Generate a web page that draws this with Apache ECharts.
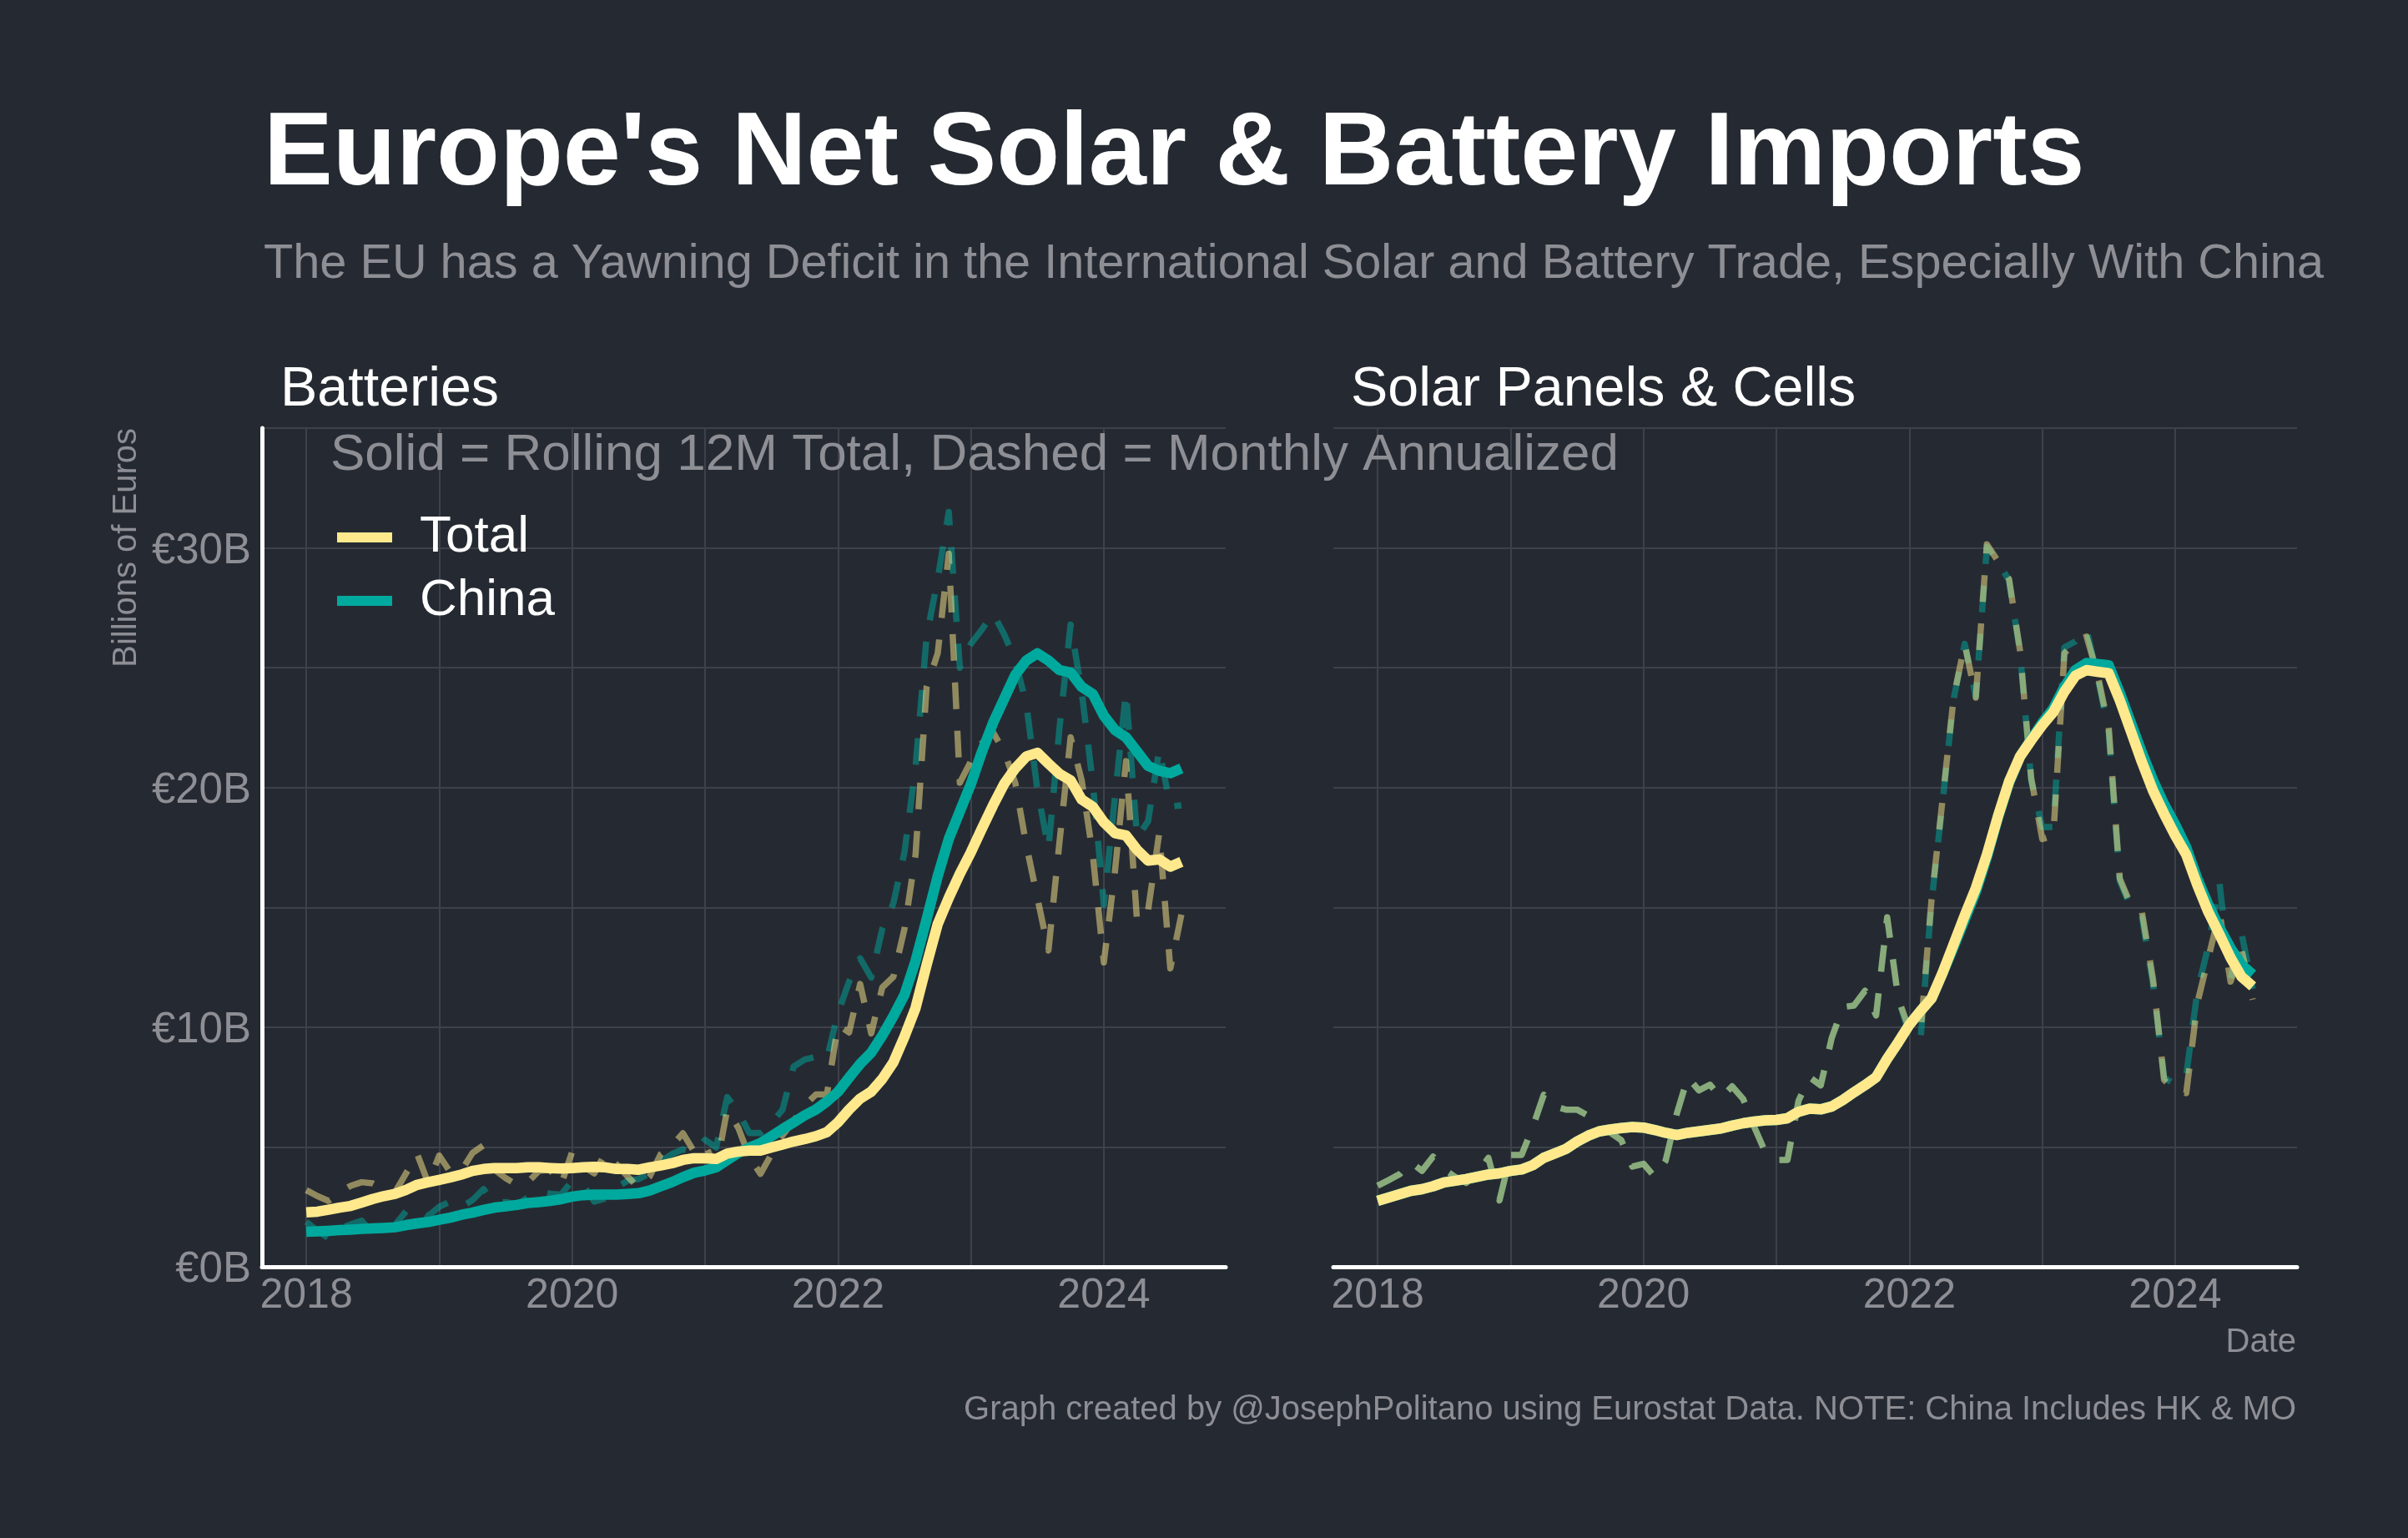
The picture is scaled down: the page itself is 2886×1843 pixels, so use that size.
<!DOCTYPE html>
<html><head><meta charset="utf-8">
<style>html,body{margin:0;padding:0;background:#252A32}#c{width:2886px;height:1843px}</style>
<script src="https://cdn.jsdelivr.net/npm/echarts@6/dist/echarts.min.js"></script>
</head><body><div id="c"></div>
<script>
// Values run monthly, Jan 2018 to Aug 2024, in billions of euros.
const batteryTotalSolid = [2.27,2.3,2.38,2.47,2.54,2.68,2.83,2.95,3.04,3.21,3.42,3.53,3.63,3.73,3.85,4.0,4.08,4.12,4.12,4.12,4.15,4.15,4.12,4.1,4.12,4.15,4.17,4.15,4.08,4.08,4.05,4.15,4.23,4.32,4.46,4.53,4.53,4.5,4.72,4.81,4.85,4.85,4.98,5.1,5.23,5.33,5.45,5.62,6.03,6.56,7.02,7.31,7.84,8.53,9.6,10.8,12.6,14.3,15.4,16.4,17.3,18.3,19.26,20.15,20.8,21.3,21.45,21.0,20.57,20.3,19.5,19.2,18.55,18.1,18.0,17.4,16.95,17.0,16.7,16.9];
const batteryChinaSolid = [1.46,1.48,1.5,1.53,1.55,1.58,1.6,1.62,1.65,1.74,1.81,1.87,1.96,2.05,2.17,2.26,2.37,2.47,2.52,2.58,2.66,2.7,2.75,2.82,2.93,2.99,3.01,3.01,3.01,3.04,3.07,3.18,3.36,3.53,3.74,3.92,4.02,4.15,4.46,4.75,4.98,5.16,5.45,5.75,6.03,6.32,6.56,6.9,7.3,7.89,8.47,8.94,9.65,10.46,11.35,12.76,14.5,16.3,17.85,19.0,20.15,21.5,22.7,23.7,24.7,25.3,25.6,25.3,24.9,24.8,24.2,23.9,23.0,22.4,22.1,21.5,20.9,20.7,20.6,20.8];
const batteryTotalMonthly = [3.2,2.95,2.75,3.1,3.38,3.53,3.48,3.25,3.1,3.9,4.72,3.5,4.64,3.95,4.0,4.75,5.07,4.05,3.7,3.42,3.53,4.0,4.05,3.42,4.8,4.2,3.9,4.75,4.28,3.77,3.3,3.77,4.7,5.05,5.57,4.81,5.1,4.11,6.56,5.8,4.58,3.88,4.7,5.5,6.09,6.73,7.19,7.19,10.1,9.78,11.8,9.74,11.66,12.1,14.1,17.2,24.2,25.6,29.76,20.2,21.1,21.85,22.3,21.5,20.2,17.6,15.4,13.2,17.75,22.1,20.3,17.2,12.7,16.5,21.1,14.4,14.9,18.1,12.45,14.7];
const batteryChinaMonthly = [1.88,1.5,1.2,1.6,1.77,1.92,1.4,1.6,1.74,2.31,2.43,2.12,2.5,2.72,2.49,2.78,3.24,2.66,2.7,2.6,2.89,3.14,3.05,3.01,3.59,3.42,2.72,2.85,3.3,3.59,3.66,3.9,4.4,4.7,4.9,4.8,5.3,4.98,7.08,6.45,5.58,5.58,6.0,6.56,8.36,8.65,8.76,8.67,10.6,11.9,12.87,12.07,14.1,15.17,17.3,20.85,26.3,28.7,31.5,25.0,26.0,26.6,27.26,26.4,25.3,23.5,19.9,17.45,22.5,26.8,24.0,20.2,15.1,19.6,24.0,17.9,18.6,21.6,19.2,19.26];
const solarTotalSolid = [2.75,2.89,3.03,3.17,3.24,3.36,3.52,3.59,3.66,3.76,3.85,3.9,4.0,4.06,4.24,4.55,4.73,4.92,5.22,5.47,5.65,5.73,5.79,5.83,5.81,5.71,5.59,5.5,5.59,5.65,5.71,5.77,5.89,5.99,6.06,6.11,6.13,6.2,6.47,6.6,6.57,6.69,6.96,7.28,7.58,7.91,8.68,9.37,10.1,10.67,11.2,12.27,13.46,14.66,15.8,17.2,18.8,20.25,21.3,21.97,22.6,23.15,24.0,24.67,24.9,24.83,24.77,23.64,22.35,21.06,19.87,18.9,18.0,17.2,15.93,14.8,13.87,12.9,12.1,11.7];
const solarChinaSolid = [2.75,2.89,3.03,3.17,3.24,3.36,3.52,3.59,3.66,3.76,3.85,3.9,4.0,4.06,4.24,4.55,4.73,4.92,5.22,5.47,5.65,5.73,5.79,5.83,5.81,5.71,5.59,5.5,5.59,5.65,5.71,5.77,5.89,5.99,6.06,6.11,6.13,6.2,6.47,6.6,6.57,6.69,6.96,7.28,7.58,7.91,8.68,9.37,10.1,10.67,11.2,12.25,13.35,14.5,15.65,17.1,18.75,20.2,21.3,22.0,22.7,23.3,24.2,24.9,25.2,25.15,25.1,23.95,22.7,21.45,20.3,19.3,18.45,17.5,16.2,15.1,14.15,13.3,12.6,12.2];
const solarTotalMonthly = [3.38,3.62,3.87,4.37,4.0,4.6,4.06,3.75,3.5,3.9,4.55,2.77,4.67,4.67,5.83,7.18,6.69,6.56,6.56,6.31,5.96,5.6,5.28,4.18,4.3,3.76,4.43,6.38,7.91,7.36,7.6,7.05,7.53,7.0,5.83,4.78,4.46,4.46,6.93,7.91,7.57,9.56,10.84,10.9,11.52,10.49,14.58,11.2,9.9,9.7,15.3,19.5,23.75,26.0,23.75,30.15,29.45,28.7,25.7,20.4,17.85,18.0,25.6,26.1,26.3,24.7,22.5,16.2,15.1,14.8,12.0,7.8,7.35,7.25,11.0,12.9,14.8,11.9,13.2,11.15];
const solarChinaMonthly = [3.38,3.62,3.87,4.37,4.0,4.6,4.06,3.75,3.5,3.9,4.55,2.77,4.67,4.67,5.83,7.18,6.69,6.56,6.56,6.31,5.96,5.6,5.28,4.18,4.3,3.76,4.43,6.38,7.91,7.36,7.6,7.05,7.53,7.0,5.83,4.78,4.46,4.46,6.93,7.91,7.57,9.56,10.84,10.9,11.52,10.49,14.58,11.2,9.7,9.4,15.2,19.4,23.7,26.0,23.8,30.05,29.4,28.65,25.6,20.3,18.35,18.35,25.85,26.1,26.6,24.6,22.3,16.1,15.0,14.6,11.8,7.9,7.6,8.0,11.5,13.4,16.0,12.0,13.9,11.6];

const monthsBefore = ['2017-09','2017-10','2017-11','2017-12'];
const years = ['2018','2019','2020','2021','2022','2023','2024'];
const monthNames = ['01','02','03','04','05','06','07','08','09','10','11','12'];
const categories = monthsBefore.concat(years.flatMap(y => monthNames.map(m => y + '-' + m)));
const labelYears = ['2018','2020','2022','2024'];
const yTickLabels = {0:'€0B',10:'€10B',20:'€20B',30:'€30B'};

const totalColor = '#FFE98C', chinaColor = '#00A99D', bg = '#252A32',
      gridColor = '#3E4149', greyText = '#8E8E95', font = '"Liberation Sans", Arial, sans-serif';

const pad = a => new Array(monthsBefore.length).fill(null).concat(a);
const solid = (name, color, data, idx) => ({type:'line', name, data:pad(data), xAxisIndex:idx, yAxisIndex:idx,
  showSymbol:false, symbol:'none', silent:true, clip:false, z:5,
  itemStyle:{color}, lineStyle:{color, width:12.5, join:'round', cap:'butt'}});
const dashed = (name, color, data, idx) => ({type:'line', name, data:pad(data), xAxisIndex:idx, yAxisIndex:idx,
  showSymbol:false, symbol:'none', silent:true, clip:false, z:3,
  lineStyle:{color, opacity:0.5, width:7.5, type:[32,26], join:'round', cap:'butt'}});

const isJan = (i, v) => v.endsWith('-01');
const xAxis = idx => ({type:'category', gridIndex:idx, data:categories, boundaryGap:false,
  axisLine:{show:true, onZero:true, lineStyle:{color:'#FFFFFF', width:5}},
  axisTick:{show:false},
  splitLine:{show:true, interval:isJan, lineStyle:{color:gridColor, width:2}},
  axisLabel:{interval:(i,v)=>v.endsWith('-01') && labelYears.includes(v.slice(0,4)),
    formatter:v=>v.slice(0,4), color:greyText, fontFamily:font, fontSize:50, margin:10, hideOverlap:false}});
const yAxis = (idx, left) => ({type:'value', gridIndex:idx, min:0, max:35, interval:5,
  axisLine:{show:left, lineStyle:{color:'#FFFFFF', width:5}},
  axisTick:{show:false},
  splitLine:{show:true, lineStyle:{color:gridColor, width:2}},
  axisLabel:{show:left, formatter:v=>yTickLabels[v]||'', color:greyText, fontFamily:font, fontSize:51, margin:13, verticalAlign:'top', lineHeight:8}});

const chart = echarts.init(document.getElementById('c'), null, {renderer:'canvas', width:2886, height:1843});
chart.setOption({
  backgroundColor:bg, animation:false,
  title:[
    {text:"Europe's Net Solar & Battery Imports", left:311, top:120, textStyle:{color:'#FFFFFF', fontFamily:font, fontWeight:'bold', fontSize:124.2}},
    {text:'The EU has a Yawning Deficit in the International Solar and Battery Trade, Especially With China', left:311, top:283, textStyle:{color:greyText, fontFamily:font, fontWeight:'normal', fontSize:57.7}},
    {text:'Batteries', left:331, top:430, textStyle:{color:'#FFFFFF', fontFamily:font, fontWeight:'normal', fontSize:66.4}},
    {text:'Solar Panels & Cells', left:1614, top:430, textStyle:{color:'#FFFFFF', fontFamily:font, fontWeight:'normal', fontSize:66.4}}
  ],
  grid:[
    {left:314, top:513, width:1155, height:1005, containLabel:false},
    {left:1598, top:513, width:1155, height:1005, containLabel:false}
  ],
  xAxis:[xAxis(0), xAxis(1)],
  yAxis:[yAxis(0,true), yAxis(1,false)],
  legend:{show:true, data:['Total','China'], orient:'vertical', left:399, top:608, icon:'rect',
    itemWidth:66, itemHeight:12, itemGap:14,
    textStyle:{color:'#FFFFFF', fontFamily:font, fontSize:62, padding:[0,0,0,28]}, selectedMode:false},
  series:[
    dashed('China monthly', chinaColor, batteryChinaMonthly, 0),
    dashed('Total monthly', totalColor, batteryTotalMonthly, 0),
    solid('China', chinaColor, batteryChinaSolid, 0),
    solid('Total', totalColor, batteryTotalSolid, 0),
    dashed('China monthly', chinaColor, solarChinaMonthly, 1),
    dashed('Total monthly', totalColor, solarTotalMonthly, 1),
    solid('China', chinaColor, solarChinaSolid, 1),
    solid('Total', totalColor, solarTotalSolid, 1)
  ],
  graphic:[
    {type:'text', left:396, top:515, z:20, silent:true, style:{text:'Solid = Rolling 12M Total, Dashed = Monthly Annualized', fill:greyText, fontFamily:font, fontSize:62}},
    {type:'text', left:132, top:513, z:20, silent:true, rotation:Math.PI/2, style:{text:'Billions of Euros', fill:greyText, fontFamily:font, fontSize:40}},
    {type:'text', right:134, top:1589, z:20, silent:true, style:{text:'Date', fill:greyText, fontFamily:font, fontSize:40}},
    {type:'text', right:134, top:1670, z:20, silent:true, style:{text:'Graph created by @JosephPolitano using Eurostat Data. NOTE: China Includes HK & MO', fill:greyText, fontFamily:font, fontSize:40}}
  ]
});
</script></body></html>
